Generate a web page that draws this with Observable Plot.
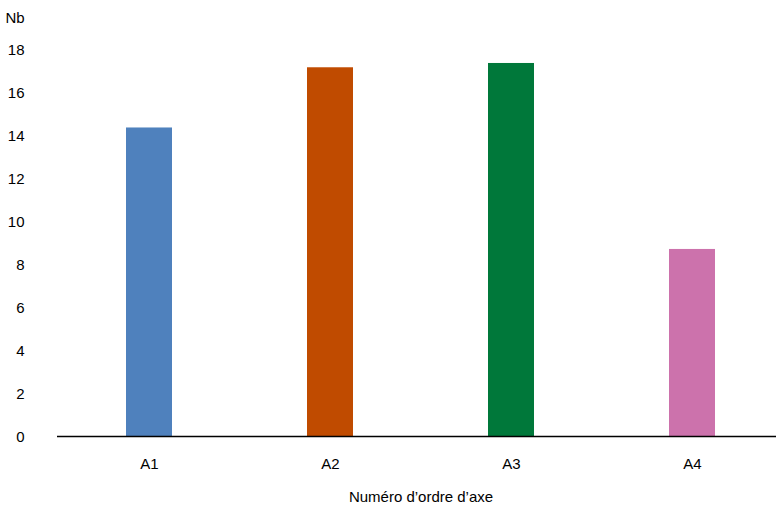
<!DOCTYPE html>
<html>
<head>
<meta charset="utf-8">
<script src="https://cdn.jsdelivr.net/npm/d3@7"></script>
<script src="https://cdn.jsdelivr.net/npm/@observablehq/plot@0.6"></script>
<style>
  html, body { margin: 0; padding: 0; background: #fff; }
  #chart svg { display: block; }
</style>
</head>
<body>
<div id="chart"></div>
<script>
const categories = ["A1", "A2", "A3", "A4"];
const values = [14.35, 17.15, 17.35, 8.7];
const colors = ["#4f81bd", "#c04b00", "#00783a", "#cc72ac"];
const yTicks = [0, 2, 4, 6, 8, 10, 12, 14, 16, 18];
const yTitle = "Nb";
const xTitle = "Numéro d’ordre d’axe";

const data = categories.map((c, i) => ({cat: c, value: values[i]}));

const chart = Plot.plot({
  width: 776,
  height: 512,
  marginLeft: 57,
  marginRight: 0,
  marginTop: 49,
  marginBottom: 76,
  style: {fontFamily: "'Liberation Sans', Arial, sans-serif", fontSize: "15px", color: "#000", background: "#fff"},
  x: {domain: categories, range: [57.2, 784], paddingInner: 0.747, paddingOuter: 0.3735},
  y: {domain: [0, 18]},
  color: {domain: categories, range: colors},
  marks: [
    Plot.barY(data, {x: "cat", y: "value", fill: "cat"}),
    Plot.ruleY([0], {stroke: "#000", strokeWidth: 1.5}),
    Plot.axisY({ticks: yTicks, tickSize: 0, tickPadding: 0, dx: -33, dy: 1, label: null, fontSize: 15}),
    Plot.axisX({tickSize: 0, tickPadding: 22, label: null, fontSize: 15}),
    Plot.text([yTitle], {frameAnchor: "top-left", dx: -52, dy: -37, textAnchor: "start", fontSize: 15}),
    Plot.text([xTitle], {frameAnchor: "bottom", dx: 4, dy: 65, fontSize: 15})
  ]
});
document.getElementById("chart").appendChild(chart);
</script>
</body>
</html>
